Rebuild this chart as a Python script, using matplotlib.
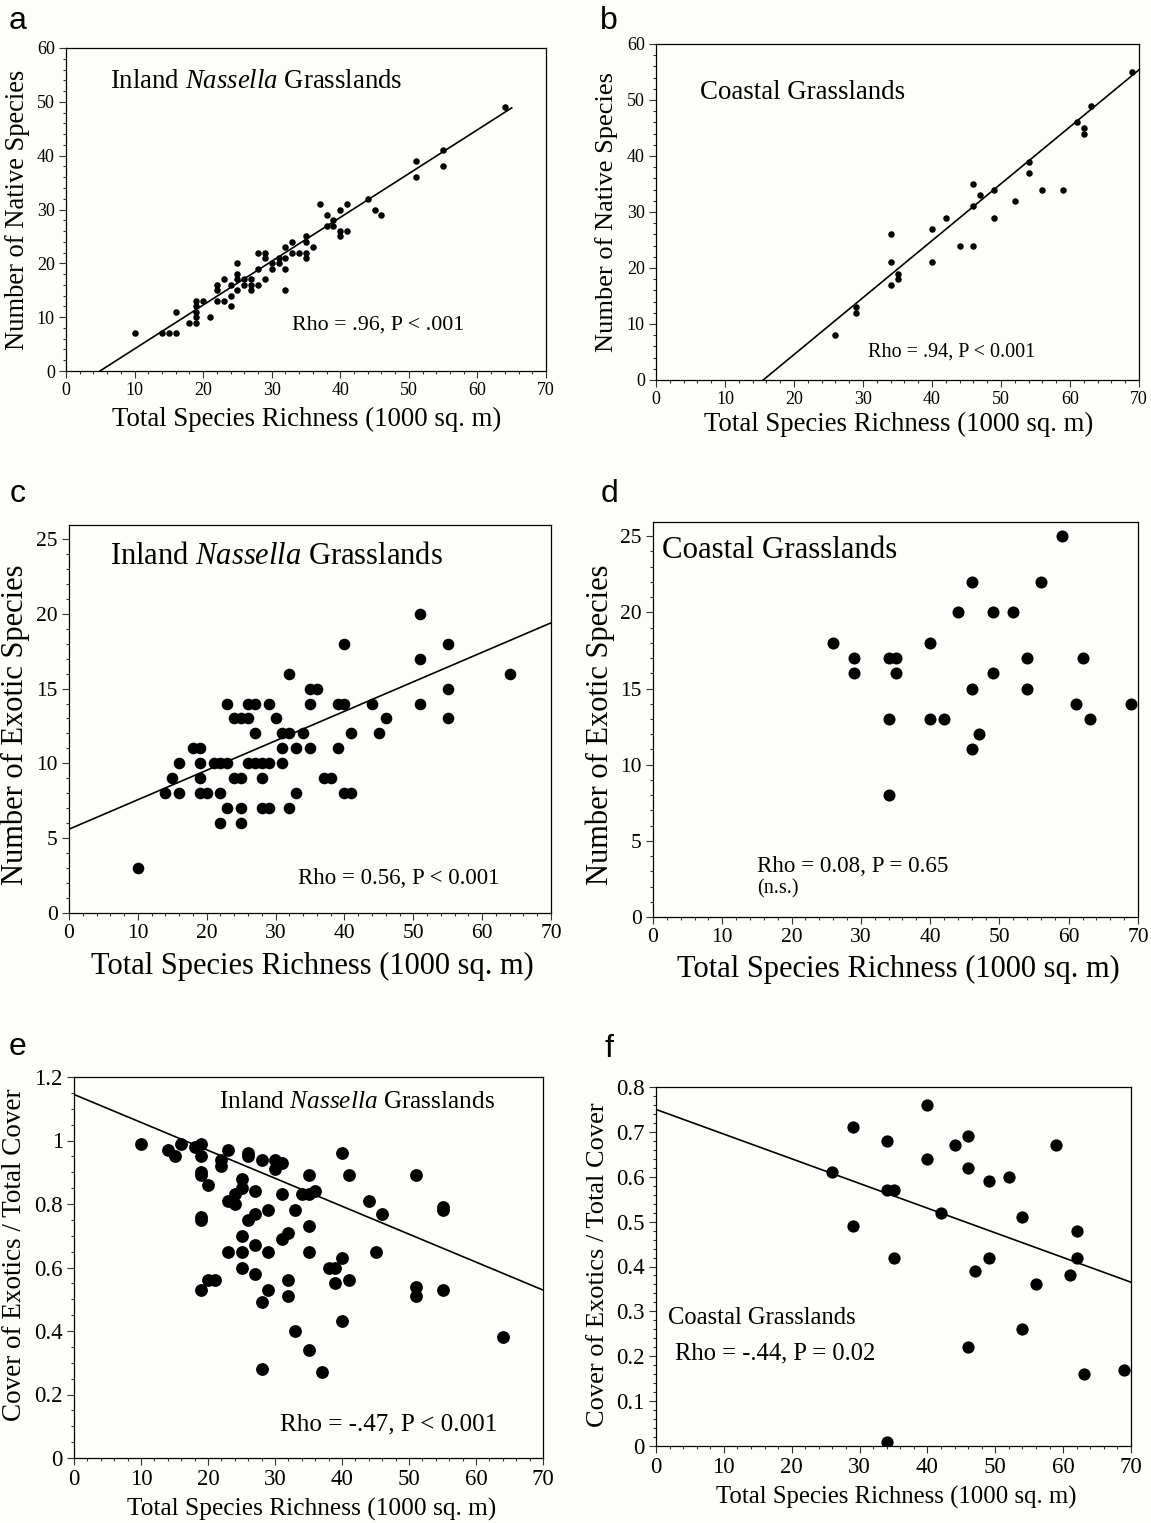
import matplotlib
matplotlib.use("Agg")
import matplotlib.pyplot as plt
from matplotlib.ticker import MultipleLocator

# ---- data ----
# a: inland, native species vs total richness
a_x = [10, 14, 15, 16, 16, 18, 19, 19, 19, 19, 19, 20, 21, 22, 23, 22, 22, 23, 24, 24,
       24, 25, 25, 25, 25, 26, 26, 27, 27, 27, 28, 28, 28, 29, 29, 29, 30, 30, 31, 31,
       32, 32, 32, 32, 33, 33, 34, 35, 35, 35, 35, 36, 37, 38, 38, 39, 39, 40, 40, 40,
       41, 41, 44, 45, 46, 51, 51, 55, 55, 64]
a_y = [7, 7, 7, 7, 11, 9, 9, 10, 11, 12, 13, 13, 10, 13, 13, 15, 16, 17, 12, 14,
       16, 15, 18, 17, 20, 16, 17, 15, 16, 17, 16, 19, 22, 22, 21, 17, 19, 20, 20, 21,
       15, 19, 21, 23, 24, 22, 22, 22, 21, 24, 25, 23, 31, 29, 27, 27, 28, 30, 26, 25,
       26, 31, 32, 30, 29, 39, 36, 41, 38, 49]
a_fit = (0.814, -4.03)
a_fit_x = [4.95, 65.0]

# b: coastal, native species vs total richness
b_x = [26, 29, 29, 34, 34, 34, 35, 35, 40, 40, 42, 44, 46, 46, 46, 47, 49, 49, 52, 54,
       54, 56, 59, 61, 62, 62, 63, 69]
b_y = [8, 13, 12, 26, 21, 17, 19, 18, 27, 21, 29, 24, 24, 35, 31, 33, 34, 29, 32, 39,
       37, 34, 34, 46, 45, 44, 49, 55]
b_fit = (1.017, -15.8)
b_fit_x = [15.55, 70.0]

# c: inland, exotic species vs total richness
c_x = [10, 14, 15, 16, 16, 18, 19, 19, 19, 19, 20, 21, 22, 23, 22, 22, 23, 23, 24, 25,
       26, 24, 25, 25, 25, 26, 27, 26, 27, 28, 29, 27, 28, 28, 29, 29, 30, 31, 31, 31,
       32, 32, 32, 33, 33, 34, 35, 35, 35, 36, 37, 38, 39, 40, 39, 40, 40, 41, 41, 44,
       45, 46, 51, 51, 51, 55, 55, 55, 64]
c_y = [3, 8, 9, 10, 8, 11, 11, 10, 9, 8, 8, 10, 10, 10, 8, 6, 14, 7, 13, 13,
       13, 9, 9, 7, 6, 14, 14, 10, 10, 10, 10, 12, 9, 7, 7, 14, 13, 10, 11, 12,
       12, 16, 7, 11, 8, 12, 14, 11, 15, 15, 9, 9, 14, 14, 11, 18, 8, 8, 12, 14,
       12, 13, 20, 17, 14, 18, 15, 13, 16]
c_fit = (0.197, 5.6)
c_fit_x = [0.0, 70.0]

# d: coastal, exotic species vs total richness
d_x = [26, 29, 29, 34, 35, 35, 34, 34, 40, 40, 42, 44, 46, 46, 46, 47, 49, 49, 52, 54,
       54, 56, 59, 61, 62, 63, 69]
d_y = [18, 17, 16, 17, 17, 16, 13, 8, 18, 13, 13, 20, 22, 15, 11, 12, 20, 16, 20, 17,
       15, 22, 25, 14, 17, 13, 14]

# e: inland, cover of exotics / total cover
e_x = [10, 14, 15, 16, 18, 19, 19, 19, 19, 19, 19, 19, 20, 20, 21, 22, 22, 23, 23, 23,
       24, 24, 25, 25, 25, 25, 25, 26, 26, 26, 27, 27, 27, 27, 28, 28, 28, 29, 29, 29,
       30, 30, 31, 31, 31, 32, 32, 32, 33, 33, 34, 35, 35, 35, 35, 35, 36, 37, 38, 39,
       39, 40, 40, 40, 41, 41, 44, 45, 46, 51, 51, 51, 55, 55, 55, 64]
e_y = [0.99, 0.97, 0.95, 0.99, 0.98, 0.99, 0.95, 0.90, 0.89, 0.76, 0.75, 0.53, 0.86, 0.56, 0.56, 0.94, 0.92, 0.97, 0.81, 0.65,
       0.83, 0.80, 0.88, 0.85, 0.70, 0.65, 0.60, 0.96, 0.95, 0.75, 0.84, 0.77, 0.67, 0.58, 0.94, 0.49, 0.28, 0.78, 0.65, 0.53,
       0.94, 0.91, 0.93, 0.83, 0.69, 0.71, 0.56, 0.51, 0.78, 0.40, 0.83, 0.89, 0.83, 0.73, 0.65, 0.34, 0.84, 0.27, 0.60, 0.60,
       0.55, 0.96, 0.63, 0.43, 0.89, 0.56, 0.81, 0.65, 0.77, 0.89, 0.54, 0.51, 0.79, 0.78, 0.53, 0.38]
e_fit = (-0.0088, 1.145)
e_fit_x = [0.0, 70.0]

# f: coastal, cover of exotics / total cover
f_x = [26, 29, 29, 34, 34, 35, 35, 34, 40, 40, 42, 44, 46, 46, 46, 47, 49, 49, 52, 54,
       54, 56, 59, 61, 62, 62, 63, 69]
f_y = [0.61, 0.71, 0.49, 0.68, 0.57, 0.57, 0.42, 0.01, 0.76, 0.64, 0.52, 0.67, 0.69, 0.62, 0.22, 0.39, 0.59, 0.42, 0.60, 0.51,
       0.26, 0.36, 0.67, 0.38, 0.48, 0.42, 0.16, 0.17]
f_fit = (-0.0055, 0.75)
f_fit_x = [0.0, 70.0]

W, H = 1151, 1523
BG = "#fdfdfa"
SERIF = "Liberation Serif"
SANS = "Liberation Sans"

plt.rcParams.update({
    "font.family": SERIF,
    "mathtext.fontset": "custom",
    "mathtext.rm": SERIF,
    "mathtext.it": SERIF + ":italic",
    "axes.linewidth": 0.9,
})

fig = plt.figure(figsize=(W / 100, H / 100), dpi=100, facecolor=BG)


def px_axes(l, t, r, b):
    return fig.add_axes([l / W, 1 - b / H, (r - l) / W, (b - t) / H], facecolor=BG)


def ftext(x, y, s, **kw):
    fig.text(x / W, 1 - y / H, s, **kw)


def style(ax, ylim, ymaj, ymin, tick_fs):
    ax.set_xlim(0, 70)
    ax.set_ylim(*ylim)
    ax.xaxis.set_major_locator(MultipleLocator(10))
    ax.xaxis.set_minor_locator(MultipleLocator(2))
    ax.yaxis.set_major_locator(MultipleLocator(ymaj))
    ax.yaxis.set_minor_locator(MultipleLocator(ymin))
    ax.tick_params(which="both", direction="out", top=False, right=False,
                   labelsize=tick_fs, width=0.8, color="#333333", pad=3)
    ax.tick_params(which="major", length=5)
    ax.tick_params(which="minor", length=2.5)


def fit_line(ax, fit, xr):
    m, c = fit
    ax.plot(xr, [m * xr[0] + c, m * xr[1] + c], color="black", lw=1.2)


inland = r"Inland $\mathit{Nassella}$ Grasslands"

# ---- panel a ----
ax = px_axes(66, 48, 546, 371)
style(ax, (0, 60), 10, 2, 13)
ax.scatter(a_x, a_y, s=22, color="black", zorder=3, linewidths=0)
fit_line(ax, a_fit, a_fit_x)
ax.text(0.092, 0.895, inland, transform=ax.transAxes, fontsize=19.3, va="center")
ax.text(0.471, 0.142, "Rho = .96, P < .001", transform=ax.transAxes, fontsize=15.8, va="center")
ftext(307, 419, "Total Species Richness (1000 sq. m)", ha="center", va="center", fontsize=19.3)
ftext(18, 210, "Number of Native Species", ha="center", va="center", rotation=90, fontsize=19.1)

# ---- panel b ----
ax = px_axes(656, 44, 1139, 380)
style(ax, (0, 60), 10, 2, 13)
ax.scatter(b_x, b_y, s=22, color="black", zorder=3, linewidths=0)
fit_line(ax, b_fit, b_fit_x)
ax.text(0.091, 0.857, "Coastal Grasslands", transform=ax.transAxes, fontsize=19.4, va="center")
ax.text(0.439, 0.083, "Rho = .94, P < 0.001", transform=ax.transAxes, fontsize=14.5, va="center")
ftext(899, 424, "Total Species Richness (1000 sq. m)", ha="center", va="center", fontsize=19.3)
ftext(607, 212, "Number of Native Species", ha="center", va="center", rotation=90, fontsize=19)

# ---- panel c ----
ax = px_axes(69, 525, 551, 913)
style(ax, (0, 25.93), 5, 1, 15.5)
ax.scatter(c_x, c_y, s=70, color="black", zorder=3, linewidths=0)
fit_line(ax, c_fit, c_fit_x)
ax.text(0.085, 0.92, inland, transform=ax.transAxes, fontsize=22, va="center")
ax.text(0.475, 0.09, "Rho = 0.56, P < 0.001", transform=ax.transAxes, fontsize=16.5, va="center")
ftext(312, 966, "Total Species Richness (1000 sq. m)", ha="center", va="center", fontsize=22)
ftext(15, 725, "Number of Exotic Species", ha="center", va="center", rotation=90, fontsize=22)

# ---- panel d ----
ax = px_axes(653, 522, 1138, 917)
style(ax, (0, 25.93), 5, 1, 15.5)
ax.scatter(d_x, d_y, s=75, color="black", zorder=3, linewidths=0)
ax.text(0.019, 0.929, "Coastal Grasslands", transform=ax.transAxes, fontsize=22.2, va="center")
ax.text(0.214, 0.129, "Rho = 0.08, P = 0.65", transform=ax.transAxes, fontsize=16.6, va="center")
ax.text(0.214, 0.071, "(n.s.)", transform=ax.transAxes, fontsize=14.5, va="center")
ftext(898, 969, "Total Species Richness (1000 sq. m)", ha="center", va="center", fontsize=22)
ftext(600, 725, "Number of Exotic Species", ha="center", va="center", rotation=90, fontsize=22)

# ---- panel e ----
ax = px_axes(74, 1077, 543, 1458)
style(ax, (0, 1.2), 0.2, 0.05, 16.5)
ax.set_yticks([0, 0.2, 0.4, 0.6, 0.8, 1.0, 1.2])
ax.set_yticklabels(["0", "0.2", "0.4", "0.6", "0.8", "1", "1.2"])
ax.scatter(e_x, e_y, s=85, color="black", zorder=3, linewidths=0)
fit_line(ax, e_fit, e_fit_x)
ax.text(0.309, 0.934, inland, transform=ax.transAxes, fontsize=18.2, va="center")
ax.text(0.439, 0.087, "Rho = -.47, P < 0.001", transform=ax.transAxes, fontsize=18.1, va="center")
ftext(312, 1509, "Total Species Richness (1000 sq. m)", ha="center", va="center", fontsize=18.3)
ftext(15, 1255, "Cover of Exotics / Total Cover", ha="center", va="center", rotation=90, fontsize=19.5)

# ---- panel f ----
ax = px_axes(656, 1087, 1131, 1446)
style(ax, (0, 0.8), 0.1, 0.02, 16.5)
ax.set_yticks([0, 0.1, 0.2, 0.3, 0.4, 0.5, 0.6, 0.7, 0.8])
ax.set_yticklabels(["0", "0.1", "0.2", "0.3", "0.4", "0.5", "0.6", "0.7", "0.8"])
ax.scatter(f_x, f_y, s=78, color="black", zorder=3, linewidths=0)
fit_line(ax, f_fit, f_fit_x)
ax.text(0.025, 0.357, "Coastal Grasslands", transform=ax.transAxes, fontsize=17.7, va="center")
ax.text(0.040, 0.259, "Rho = -.44, P = 0.02", transform=ax.transAxes, fontsize=17.7, va="center")
ftext(896, 1497, "Total Species Richness (1000 sq. m)", ha="center", va="center", fontsize=17.8)
ftext(598, 1265, "Cover of Exotics / Total Cover", ha="center", va="center", rotation=90, fontsize=19)

# panel letters
for lab, x, y in [("a", 18, 21), ("b", 609, 21), ("c", 18, 494),
                  ("d", 609, 494), ("e", 18, 1047), ("f", 609, 1049)]:
    ftext(x, y, lab, ha="center", va="center", fontsize=23, family=SANS)

fig.savefig("out.png", dpi=100, facecolor=BG)
